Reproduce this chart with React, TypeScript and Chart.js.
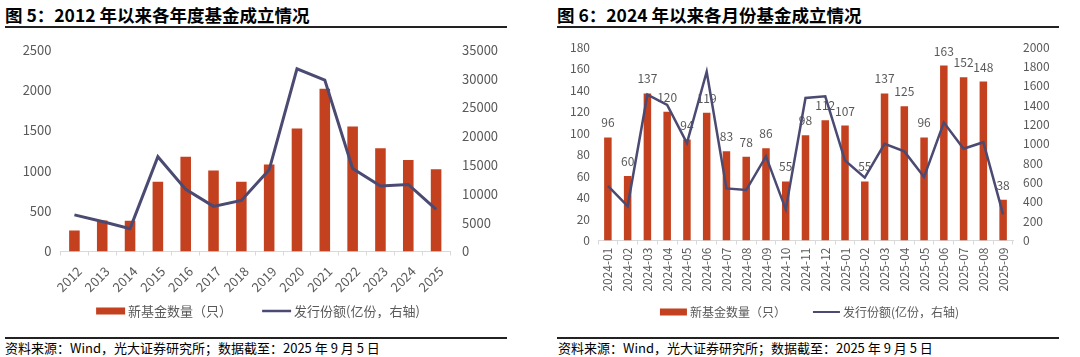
import React, { useEffect, useRef } from 'react';
import { Chart, registerables } from 'chart.js';

Chart.register(...registerables);

// ---------- data ----------
const years = ['2012', '2013', '2014', '2015', '2016', '2017', '2018', '2019', '2020', '2021', '2022', '2023', '2024', '2025'];
const yearFundCount = [260, 385, 381, 863, 1175, 1005, 863, 1078, 1524, 2018, 1548, 1280, 1135, 1021];
const yearIssueShares = [6350, 5200, 3970, 16450, 10780, 7830, 8850, 14180, 31710, 29730, 14410, 11350, 11630, 7320];

const months = ['2024-01', '2024-02', '2024-03', '2024-04', '2024-05', '2024-06', '2024-07', '2024-08', '2024-09', '2024-10', '2024-11', '2024-12', '2025-01', '2025-02', '2025-03', '2025-04', '2025-05', '2025-06', '2025-07', '2025-08', '2025-09'];
const monthFundCount = [96, 60, 137, 120, 94, 119, 83, 78, 86, 55, 98, 112, 107, 55, 137, 125, 96, 163, 152, 148, 38];
const monthIssueShares = [566, 356, 1508, 1403, 1007, 1746, 539, 522, 871, 322, 1475, 1492, 827, 651, 1000, 922, 658, 1220, 949, 1017, 271];

const barLegendText = '新基金数量（只）';
const lineLegendText = '发行份额(亿份，右轴)';
const title5 = '图 5：2012 年以来各年度基金成立情况';
const title6 = '图 6：2024 年以来各月份基金成立情况';
const sourceText = '资料来源：Wind，光大证券研究所；数据截至：2025 年 9 月 5 日';

// ---------- styles ----------
const BAR = '#C4411F';
const LINE = '#4B4A72';
const TICK = '#595959';
const AXIS = '#D9D9D9';
const FONT = '"Noto Sans CJK SC", "Noto Sans", sans-serif';

const barLabelPlugin = {
  id: 'barLabels',
  afterDatasetDraw(chart: any, args: any) {
    if (args.index !== 0) return;
    const ctx = chart.ctx;
    const values = chart.data.datasets[0].data;
    ctx.save();
    ctx.font = `12px ${FONT}`;
    ctx.fillStyle = TICK;
    ctx.textAlign = 'center';
    ctx.textBaseline = 'middle';
    args.meta.data.forEach((el: any, i: number) => {
      ctx.fillText(String(values[i]), el.x, el.y - 14.5);
    });
    ctx.restore();
  },
};

const legendPlugin = {
  id: 'customLegend',
  afterDraw(chart: any, _args: any, o: any) {
    const ctx = chart.ctx;
    const items = [chart.data.datasets[0].label, chart.data.datasets[1].label];
    ctx.save();
    ctx.font = `${o.fontSize}px ${FONT}`;
    const t1 = ctx.measureText(items[0]).width;
    const t2 = ctx.measureText(items[1]).width;
    const total = o.boxW + o.textGap + t1 + o.itemGap + o.boxW + o.textGap + t2;
    let x = o.centerX - total / 2;
    const y = o.centerY;
    ctx.fillStyle = BAR;
    ctx.fillRect(x, y - o.boxH / 2, o.boxW, o.boxH);
    x += o.boxW + o.textGap;
    ctx.fillStyle = TICK;
    ctx.textBaseline = 'middle';
    ctx.textAlign = 'left';
    ctx.fillText(items[0], x, y);
    x += t1 + o.itemGap;
    ctx.strokeStyle = LINE;
    ctx.lineWidth = o.lineW;
    ctx.beginPath();
    ctx.moveTo(x, y);
    ctx.lineTo(x + o.boxW, y);
    ctx.stroke();
    x += o.boxW + o.textGap;
    ctx.fillText(items[1], x, y);
    ctx.restore();
  },
};

function makeConfig(p: any) {
  return {
    type: 'bar',
    data: {
      labels: p.labels,
      datasets: [
        {
          type: 'bar',
          label: barLegendText,
          data: p.bars,
          backgroundColor: BAR,
          yAxisID: 'y',
          order: 1,
          barPercentage: 0.38,
          categoryPercentage: 1,
        },
        {
          type: 'line',
          label: lineLegendText,
          data: p.line,
          borderColor: LINE,
          backgroundColor: LINE,
          borderWidth: p.lineWidth,
          pointRadius: 0,
          tension: 0,
          fill: false,
          yAxisID: 'y1',
          order: 0,
        },
      ],
    },
    plugins: p.dataLabels ? [barLabelPlugin, legendPlugin] : [legendPlugin],
    options: {
      responsive: false,
      animation: false,
      devicePixelRatio: 1,
      layout: { padding: { top: p.padTop, bottom: 0, left: 0, right: 0 } },
      plugins: {
        tooltip: { enabled: false },
        legend: { display: false },
        customLegend: p.legend,
      },
      scales: {
        x: {
          grid: { display: true, offset: true, drawOnChartArea: false, drawTicks: true, tickLength: 4, color: AXIS },
          border: { display: true, color: AXIS, width: 1 },
          ticks: {
            color: TICK,
            font: { family: FONT, size: p.tickFont },
            minRotation: p.rotation,
            maxRotation: p.rotation,
            autoSkip: false,
            padding: p.xTickPad,
            labelOffset: p.xLabelOffset,
          },
          afterFit: (s: any) => { s.height = p.xHeight; },
        },
        y: {
          position: 'left',
          min: 0,
          max: p.yMax,
          grid: { display: false, drawTicks: false },
          border: { display: false },
          ticks: { stepSize: p.yStep, color: TICK, font: { family: FONT, size: p.tickFont }, padding: p.yPad, callback: (v: any) => String(v) },
          afterFit: (s: any) => { s.width = p.yWidth; },
        },
        y1: {
          position: 'right',
          min: 0,
          max: p.y1Max,
          grid: { display: false, drawTicks: false },
          border: { display: false },
          ticks: { stepSize: p.y1Step, color: TICK, font: { family: FONT, size: p.tickFont }, padding: p.y1Pad, callback: (v: any) => String(v) },
          afterFit: (s: any) => { s.width = p.y1Width; },
        },
      },
    },
  };
}

function ChartCanvas({ left, top, width, height, params }: any) {
  const ref = useRef<HTMLCanvasElement | null>(null);
  useEffect(() => {
    if (!ref.current) return;
    const chart = new Chart(ref.current, makeConfig(params) as any);
    return () => chart.destroy();
  }, []);
  return (
    <canvas
      ref={ref}
      width={width}
      height={height}
      style={{ position: 'absolute', left, top, width, height }}
    />
  );
}

const leftParams = {
  labels: years, bars: yearFundCount, line: yearIssueShares, lineWidth: 3,
  dataLabels: false, padTop: 15.5,
  legend: { centerX: 258, centerY: 281, fontSize: 13, boxW: 29, boxH: 7, textGap: 3, itemGap: 30, lineW: 2.5 },
  tickFont: 13, rotation: 45, xTickPad: 8, xLabelOffset: 5, xHeight: 78.5,
  yMax: 2500, yStep: 500, yPad: 9, yWidth: 60.5,
  y1Max: 35000, y1Step: 5000, y1Pad: 12, y1Width: 68,
};

const rightParams = {
  labels: months, bars: monthFundCount, line: monthIssueShares, lineWidth: 2.5,
  dataLabels: true, padTop: 13.5,
  legend: { centerX: 269.5, centerY: 282, fontSize: 12, boxW: 27, boxH: 7, textGap: 3, itemGap: 27, lineW: 2 },
  tickFont: 12, rotation: 90, xTickPad: 3, xLabelOffset: 0, xHeight: 89.5,
  yMax: 180, yStep: 20, yPad: 8, yWidth: 58,
  y1Max: 2000, y1Step: 200, y1Pad: 10, y1Width: 67,
};

const titleStyle: any = { position: 'absolute', top: 4, fontSize: 17.5, fontWeight: 700, lineHeight: '21px', color: '#000', whiteSpace: 'nowrap' };
const ruleStyle: any = { position: 'absolute', width: 502, height: 1.5, background: '#222' };
const sourceStyle: any = { position: 'absolute', top: 338.5, fontSize: 13, lineHeight: '18px', color: '#000', whiteSpace: 'nowrap' };

export default function App() {
  return (
    <div style={{ position: 'absolute', left: 0, top: 0, width: 1080, height: 357, background: '#fff', fontFamily: FONT, overflow: 'hidden' }}>
      <div style={{ ...titleStyle, left: 5 }}>{title5}</div>
      <div style={{ ...ruleStyle, left: 5, top: 26.3 }} />
      <ChartCanvas left={0} top={30} width={518} height={300} params={leftParams} />
      <div style={{ ...ruleStyle, left: 5, top: 337 }} />
      <div style={{ ...sourceStyle, left: 5 }}>{sourceText}</div>

      <div style={{ ...titleStyle, left: 557 }}>{title6}</div>
      <div style={{ ...ruleStyle, left: 557, top: 26.3 }} />
      <ChartCanvas left={540} top={30} width={540} height={300} params={rightParams} />
      <div style={{ ...ruleStyle, left: 557, top: 337 }} />
      <div style={{ ...sourceStyle, left: 558 }}>{sourceText}</div>
    </div>
  );
}
